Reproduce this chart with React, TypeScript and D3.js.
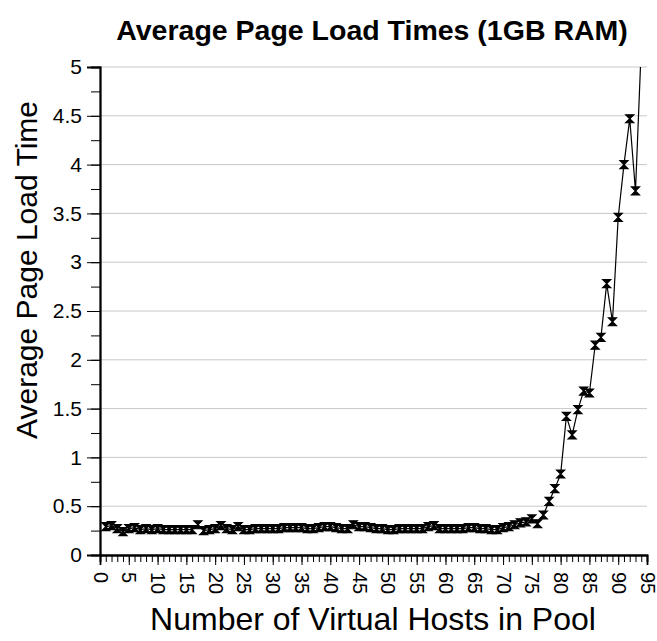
import * as d3 from 'd3';
import React, { useEffect, useRef } from 'react';

// hosts in pool (x) and average page load time (y)
const hosts: number[] = d3.range(1, 95);
const loadTimes: number[] = [
    0.29, 0.3, 0.27, 0.24, 0.27, 0.28, 0.26, 0.27, 0.26, 0.27,
    0.26, 0.26, 0.26, 0.26, 0.26, 0.26, 0.31, 0.25, 0.26, 0.27,
    0.3, 0.27, 0.26, 0.29, 0.26, 0.26, 0.27, 0.27, 0.27, 0.27,
    0.27, 0.28, 0.28, 0.28, 0.28, 0.27, 0.27, 0.28, 0.29, 0.29,
    0.28, 0.27, 0.27, 0.31, 0.29, 0.29, 0.28, 0.27, 0.27, 0.26,
    0.26, 0.27, 0.27, 0.27, 0.27, 0.27, 0.29, 0.3, 0.27, 0.27,
    0.27, 0.27, 0.27, 0.28, 0.28, 0.27, 0.27, 0.26, 0.26, 0.28,
    0.29, 0.31, 0.33, 0.34, 0.37, 0.32, 0.41, 0.55, 0.68, 0.83,
    1.42, 1.23, 1.49, 1.68, 1.66, 2.15, 2.23, 2.78, 2.39, 3.46,
    4.0, 4.47, 3.73, 5.2,
];
const xTicks: number[] = d3.range(0, 96, 5);
const yTicks: number[] = d3.range(0, 5.01, 0.5);

const FONT = "'Liberation Sans', Arial, sans-serif";

const App: React.FC = () => {
    const svgRef = useRef<SVGSVGElement | null>(null);

    useEffect(() => {
        const W = 657;
        const H = 641;
        const margin = { top: 67, right: 10, bottom: 86, left: 100 };
        const width = W - margin.left - margin.right;
        const height = H - margin.top - margin.bottom;

        d3.select(svgRef.current).selectAll('*').remove();

        const root = d3.select(svgRef.current).attr('width', W).attr('height', H);

        const svg = root.append('g').attr('transform', `translate(${margin.left},${margin.top})`);

        const x = d3.scaleLinear().domain([0, 95]).range([0, width]);
        const y = d3.scaleLinear().domain([0, 5]).range([height, 0]);

        // gridlines
        svg.selectAll('.grid')
            .data(yTicks.filter(t => t > 0))
            .enter()
            .append('line')
            .attr('x1', 0)
            .attr('x2', width)
            .attr('y1', d => y(d))
            .attr('y2', d => y(d))
            .attr('stroke', '#c8c8c8')
            .attr('stroke-width', 1);

        // y axis: minor + major ticks
        const yAxis = svg.append('g');
        yAxis.call(
            d3.axisLeft(y).tickValues(d3.range(0, 5.01, 0.25)).tickSize(9).tickFormat(() => '')
        );
        yAxis.append('g').call(
            d3.axisLeft(y).tickValues(yTicks).tickSize(13).tickPadding(5).tickFormat(d => d3.format('')(d as number))
        );
        yAxis.selectAll('.domain').attr('stroke', '#000').attr('stroke-width', 1.8);
        yAxis.selectAll('.tick line').attr('stroke', '#000');
        yAxis.selectAll('text').attr('font-family', FONT).attr('font-size', 21).attr('fill', '#000');

        // x axis: minor + major ticks
        const xAxis = svg.append('g').attr('transform', `translate(0,${height})`);
        xAxis.call(d3.axisBottom(x).tickValues(d3.range(0, 96, 1)).tickSize(7).tickFormat(() => ''));
        xAxis.append('g').call(d3.axisBottom(x).tickValues(xTicks).tickSize(10).tickFormat(d => String(d)));
        xAxis.selectAll('.domain').attr('stroke', '#000').attr('stroke-width', 1.8);
        xAxis.selectAll('.tick line').attr('stroke', '#000');
        xAxis.selectAll('text')
            .attr('font-family', FONT)
            .attr('font-size', 20)
            .attr('fill', '#000')
            .attr('transform', 'rotate(90)')
            .attr('x', 17)
            .attr('y', 0)
            .attr('dy', '0.35em')
            .style('text-anchor', 'start');

        // series line, clipped to the plot area
        root.append('clipPath')
            .attr('id', 'plot-clip')
            .append('rect')
            .attr('x', 0)
            .attr('y', 0)
            .attr('width', width + 2)
            .attr('height', height);

        const points = hosts.map((h, i) => [h, loadTimes[i]] as [number, number]);

        const plot = svg.append('g').attr('clip-path', 'url(#plot-clip)');

        plot.append('path')
            .datum(points)
            .attr('fill', 'none')
            .attr('stroke', '#000')
            .attr('stroke-width', 1.2)
            .attr('d', d3.line<[number, number]>().x(d => x(d[0])).y(d => y(d[1])));

        // hourglass markers (error bar caps)
        const s = 4;
        plot.selectAll('.marker')
            .data(points.filter(d => d[1] <= 5))
            .enter()
            .append('path')
            .attr('class', 'marker')
            .attr('transform', d => `translate(${x(d[0])},${y(d[1])})`)
            .attr('d', `M${-s},${-s}H${s}L0,0L${s},${s}H${-s}L0,0Z`)
            .attr('fill', '#000')
            .attr('stroke', '#000')
            .attr('stroke-width', 1.2);

        // titles
        root.append('text')
            .attr('x', 372)
            .attr('y', 40)
            .attr('text-anchor', 'middle')
            .attr('font-family', FONT)
            .attr('font-weight', 'bold')
            .attr('font-size', 28.5)
            .text('Average Page Load Times (1GB RAM)');

        root.append('text')
            .attr('transform', 'translate(37,270) rotate(-90)')
            .attr('text-anchor', 'middle')
            .attr('font-family', FONT)
            .attr('font-size', 30)
            .text('Average Page Load Time');

        root.append('text')
            .attr('x', 373)
            .attr('y', 630)
            .attr('text-anchor', 'middle')
            .attr('font-family', FONT)
            .attr('font-size', 32)
            .text('Number of Virtual Hosts in Pool');
    }, []);

    return <svg ref={svgRef} style={{ position: 'absolute', left: 0, top: 0 }}></svg>;
};

export default App;
